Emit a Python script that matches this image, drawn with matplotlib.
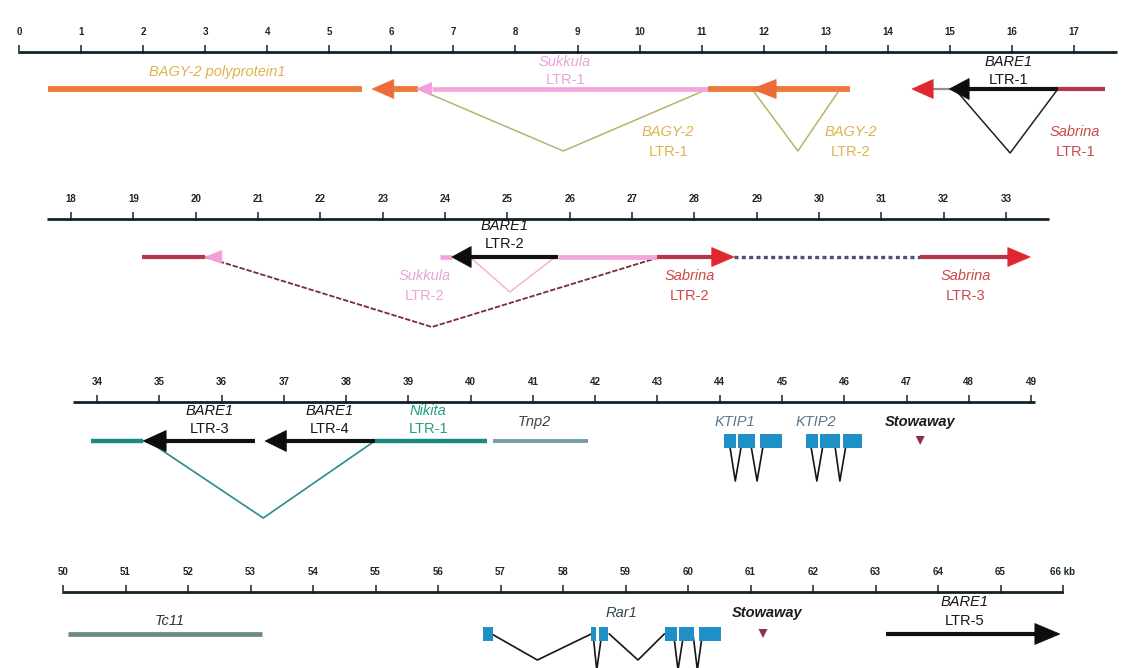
import matplotlib.pyplot as plt
from matplotlib.patches import Polygon, Rectangle

plt.rcParams["font.family"] = ["Liberation Sans", "DejaVu Sans"]

W, H = 1124, 668

# ---- map data (positions in kb) ----
tick_kb = [list(range(0, 18)), list(range(18, 34)), list(range(34, 50)), list(range(50, 67))]
tick_text = [[str(k) for k in t] for t in tick_kb]
tick_text[3][-1] = "66 kb"
ruler_kb = [(0.0, 17.69), (17.61, 33.69), (33.61, 49.06), (50.0, 66.0)]

# element bars: (row, start, end, element)
bars = [
    (0, 0.47, 5.53, "BAGY-2"),
    (0, 6.04, 6.43, "BAGY-2"),
    (0, 6.65, 11.10, "Sukkula"),
    (0, 11.10, 13.39, "BAGY-2"),
    (0, 14.73, 15.00, "linker"),
    (0, 15.31, 16.74, "BARE1"),
    (0, 16.74, 17.50, "Sabrina"),
    (1, 19.14, 20.15, "Sabrina"),
    (1, 23.92, 24.11, "Sukkula"),
    (1, 24.42, 25.81, "BARE1"),
    (1, 25.81, 27.40, "Sukkula"),
    (1, 27.40, 28.28, "Sabrina"),
    (1, 31.62, 33.03, "Sabrina"),
    (2, 33.90, 34.74, "Nikita"),
    (2, 35.11, 36.54, "BARE1"),
    (2, 37.04, 38.46, "BARE1"),
    (2, 38.46, 40.26, "Nikita"),
    (2, 40.36, 41.89, "Tnp2"),
    (3, 50.08, 53.18, "Tc11"),
    (3, 63.17, 65.55, "BARE1"),
]
unsequenced = [(1, 28.64, 31.62)]

# arrowheads: (row, tip, base, element)
arrowheads = [
    (0, 5.69, 6.04, "BAGY-2"),
    (0, 6.41, 6.65, "Sukkula"),
    (0, 11.81, 12.20, "BAGY-2"),
    (0, 14.39, 14.73, "Sabrina"),
    (0, 14.99, 15.31, "BARE1"),
    (1, 20.15, 20.42, "Sukkula"),
    (1, 24.11, 24.42, "BARE1"),
    (1, 28.64, 28.28, "Sabrina"),
    (1, 33.39, 33.03, "Sabrina"),
    (2, 34.74, 35.11, "BARE1"),
    (2, 36.70, 37.04, "BARE1"),
    (3, 65.95, 65.55, "BARE1"),
]

# insertion / intron joins: (row, left, apex, right, element)
joins = [
    (0, 6.43, 8.77, 11.10, "BAGY-2"),
    (0, 11.81, 12.55, 13.23, "BAGY-2"),
    (0, 15.08, 15.97, 16.74, "BARE1"),
    (1, 20.15, 23.79, 27.45, "Sabrina"),
    (1, 24.40, 25.04, 25.77, "Sukkula"),
    (2, 34.82, 36.67, 38.46, "Nikita"),
    (2, 44.15, 44.25, 44.36, "intron"),
    (2, 44.49, 44.60, 44.71, "intron"),
    (2, 45.45, 45.56, 45.67, "intron"),
    (2, 45.84, 45.93, 46.04, "intron"),
    (3, 56.86, 57.59, 58.45, "intron"),
    (3, 58.48, 58.54, 58.62, "intron"),
    (3, 58.74, 59.20, 59.62, "intron"),
    (3, 59.77, 59.84, 59.93, "intron"),
    (3, 60.08, 60.15, 60.23, "intron"),
]
join_depth = [62, 62, 64, 70, 35, 77, 40, 40, 40, 40, 26, 36, 26, 36, 36]

# exons: (row, start, end)
exons = [
    (2, 44.07, 44.26), (2, 44.29, 44.57), (2, 44.65, 45.00),
    (2, 45.39, 45.58), (2, 45.61, 45.93), (2, 45.98, 46.29),
    (3, 56.72, 56.88), (3, 58.45, 58.52), (3, 58.57, 58.72),
    (3, 59.63, 59.82), (3, 59.86, 60.10), (3, 60.17, 60.52),
]
stowaway_kb = [(2, 47.22), (3, 61.20)]

# labels: (row, kb, name, sub, element, tier)
labels = [
    (0, 3.20, "BAGY-2 polyprotein1", "", "BAGY-2", "single"),
    (0, 8.80, "Sukkula", "LTR-1", "Sukkula", "above"),
    (0, 10.46, "BAGY-2", "LTR-1", "BAGY-2", "below"),
    (0, 13.40, "BAGY-2", "LTR-2", "BAGY-2", "below"),
    (0, 15.94, "BARE1", "LTR-1", "BARE1", "above"),
    (0, 17.02, "Sabrina", "LTR-1", "Sabrina", "below"),
    (1, 24.96, "BARE1", "LTR-2", "BARE1", "above"),
    (1, 23.68, "Sukkula", "LTR-2", "Sukkula", "below"),
    (1, 27.93, "Sabrina", "LTR-2", "Sabrina", "below"),
    (1, 32.36, "Sabrina", "LTR-3", "Sabrina", "below"),
    (2, 35.81, "BARE1", "LTR-3", "BARE1", "above"),
    (2, 37.74, "BARE1", "LTR-4", "BARE1", "above"),
    (2, 39.32, "Nikita", "LTR-1", "Nikita", "above"),
    (2, 41.03, "Tnp2", "", "Tnp2", "single"),
    (2, 44.25, "KTIP1", "", "KTIP", "single"),
    (2, 45.54, "KTIP2", "", "KTIP", "single"),
    (2, 47.22, "Stowaway", "", "Stowaway", "single"),
    (3, 51.71, "Tc11", "", "Tc11", "low"),
    (3, 58.94, "Rar1", "", "Rar1", "single"),
    (3, 61.26, "Stowaway", "", "Stowaway", "single"),
    (3, 64.43, "BARE1", "LTR-5", "BARE1", "above"),
]

# ---- layout ----
rows = [
    dict(p0=19, s=62.06, line_y=52, bar_y=89,
         tiers=dict(above=(-27, -9), below=(43, 63), single=(-17,))),
    dict(p0=71, s=62.33, line_y=219, bar_y=257,
         tiers=dict(above=(-31, -13), below=(19, 39), single=(-20,))),
    dict(p0=97, s=62.27, line_y=402, bar_y=441,
         tiers=dict(above=(-30, -12), single=(-19,))),
    dict(p0=63, s=62.5, line_y=592, bar_y=634,
         tiers=dict(above=(-32, -13), single=(-21,), low=(-13,))),
]

bar_style = {
    "BAGY-2": dict(color="#ec7a3c", lw=4.2),
    "Sukkula": dict(color="#f2a6dc", lw=3.4),
    "Sabrina": dict(color="#b8344c", lw=3.0),
    "BARE1": dict(color="#111111", lw=3.0),
    "Nikita": dict(color="#1c8a80", lw=3.2),
    "Tnp2": dict(color="#6f9ea8", lw=2.8),
    "Tc11": dict(color="#6d8a7e", lw=3.4),
    "linker": dict(color="#9a8a8a", lw=1.6),
}
head_style = {
    "BAGY-2": ("#ee6a38", 19),
    "Sukkula": ("#f2a0da", 13),
    "Sabrina": ("#e0262e", 19),
    "BARE1": ("#0d0d0d", 21),
}
join_style = {
    "BAGY-2": dict(color="#b9b26a", lw=1.1),
    "BARE1": dict(color="#222222", lw=1.1),
    "Sabrina": dict(color="#7a2a44", lw=1.3, ls=(0, (3, 1))),
    "Sukkula": dict(color="#f0b4de", lw=1.1),
    "Nikita": dict(color="#2a8c8c", lw=1.2),
    "intron": dict(color="#151515", lw=1.2),
}
label_color = {
    "BAGY-2": "#e0b24c", "Sukkula": "#e9a4d8", "BARE1": "#151515",
    "Sabrina": "#cc4848", "Nikita": "#22a07a", "Tnp2": "#3c4646",
    "Tc11": "#2c3838", "KTIP": "#5a7890", "Rar1": "#34464e",
    "Stowaway": "#1c1c1c",
}
EXON = "#1e90c6"
RULER = "#13222a"

fig = plt.figure(figsize=(W / 100, H / 100), dpi=100)
axes = []
for i, r in enumerate(rows):
    ax = fig.add_axes([0, 0, 1, 1])
    k0 = tick_kb[i][0]
    ax.set_xlim(k0 - r["p0"] / r["s"], k0 + (W - r["p0"]) / r["s"])
    ax.set_ylim(H, 0)
    ax.axis("off")
    ax.patch.set_alpha(0)
    axes.append(ax)

    # ruler
    ax.plot(ruler_kb[i], [r["line_y"]] * 2, color=RULER, lw=2.0,
            solid_capstyle="butt")
    ax.vlines(tick_kb[i], r["line_y"] - 7, r["line_y"] + 1.5, color=RULER, lw=1.1)
    for k, t in zip(tick_kb[i], tick_text[i]):
        ax.text(k, r["line_y"] - 20, t, ha="center", va="center",
                fontsize=7, fontweight="bold", color="#1a262c")

for (row, left, apex, right, el), d in zip(joins, join_depth):
    ax, r = axes[row], rows[row]
    y0 = r["bar_y"]
    ax.plot([left, apex, right], [y0, y0 + d, y0], zorder=1, **join_style[el])

for row, a, b, el in bars:
    ax, r = axes[row], rows[row]
    ax.plot([a, b], [r["bar_y"]] * 2, solid_capstyle="butt", zorder=2,
            **bar_style[el])

for row, a, b in unsequenced:
    ax, r = axes[row], rows[row]
    ax.plot([a, b], [r["bar_y"]] * 2, color="#4e4e78", lw=2.4,
            ls=(0, (1.2, 1.0)), zorder=2)

for row, tip, base, el in arrowheads:
    ax, r = axes[row], rows[row]
    col, h = head_style[el]
    y0 = r["bar_y"]
    ax.add_patch(Polygon([(tip, y0), (base, y0 - h / 2), (base, y0 + h / 2)],
                         closed=True, facecolor=col, edgecolor=col, lw=0.5,
                         zorder=3))

for row, a, b in exons:
    ax, r = axes[row], rows[row]
    ax.add_patch(Rectangle((a, r["bar_y"] - 7), b - a, 14, facecolor=EXON,
                           edgecolor="none", zorder=3))

for row, k in stowaway_kb:
    ax, r = axes[row], rows[row]
    half = 4.5 / r["s"]
    y0 = r["bar_y"]
    ax.add_patch(Polygon([(k - half, y0 - 5), (k + half, y0 - 5), (k, y0 + 4)],
                         closed=True, facecolor="#8a3058", edgecolor="none",
                         zorder=3))

for row, k, name, sub, el, tier in labels:
    ax, r = axes[row], rows[row]
    offs = r["tiers"][tier]
    col = label_color[el]
    bold = "bold" if el == "Stowaway" else "normal"
    ax.text(k, r["bar_y"] + offs[0], name, ha="center", va="center",
            fontsize=10.5, style="italic", fontweight=bold, color=col, zorder=4)
    if sub:
        ax.text(k, r["bar_y"] + offs[1], sub, ha="center", va="center",
                fontsize=10.5, color=col, zorder=4)

fig.savefig("out.png", dpi=100)
